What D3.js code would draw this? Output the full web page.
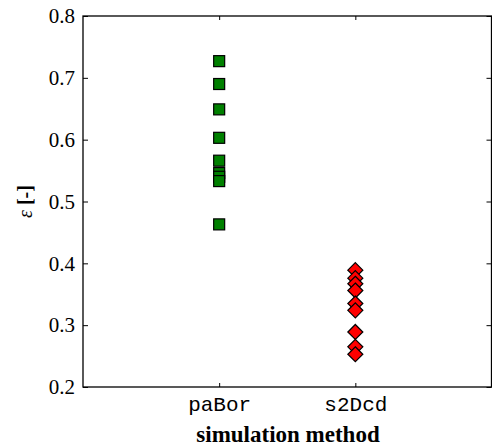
<!DOCTYPE html>
<html><head><meta charset="utf-8">
<script src="https://cdn.jsdelivr.net/npm/d3@7"></script>
<style>body{margin:0;background:#fff}</style>
</head><body>
<svg id="c" width="492" height="446"></svg>
<script>
const categories = ["paBor", "s2Dcd"];
const paBorValues = [0.727, 0.690, 0.649, 0.603, 0.566, 0.546, 0.540, 0.533, 0.463];
const s2DcdValues = [0.389, 0.376, 0.367, 0.356, 0.335, 0.324, 0.289, 0.265, 0.253];
const yTicks = [0.2, 0.3, 0.4, 0.5, 0.6, 0.7, 0.8];

const svg = d3.select("#c");
const L = 83, R = 491.5, T = 16, B = 387;
const x = d3.scaleLinear().domain([0, 3]).range([L, R]);
const y = d3.scaleLinear().domain([0.2, 0.8]).range([B, T]);
const serif = "'Liberation Serif', 'DejaVu Serif', serif";

// box
svg.append("rect").attr("x", L).attr("y", T).attr("width", R - L).attr("height", B - T)
  .attr("fill", "none").attr("stroke", "#000").attr("stroke-width", 1.3);

// y axis
const ya = svg.append("g").attr("transform", `translate(${L},0)`)
  .call(d3.axisLeft(y).tickValues(yTicks).tickFormat(d3.format(".1f")).tickSizeInner(-5).tickSizeOuter(0).tickPadding(8));
ya.select(".domain").remove();
ya.selectAll("text").style("font-family", serif).style("font-size", "21px").attr("fill", "#000");
const yr = svg.append("g").attr("transform", `translate(${R},0)`)
  .call(d3.axisRight(y).tickValues(yTicks).tickSizeInner(-5).tickSizeOuter(0).tickFormat(""));
yr.select(".domain").remove();

// x axis
const xa = svg.append("g").attr("transform", `translate(0,${B})`)
  .call(d3.axisBottom(x).tickValues([1, 2]).tickFormat((d) => categories[d - 1]).tickSizeInner(-4).tickSizeOuter(0).tickPadding(9));
xa.select(".domain").remove();
xa.selectAll("text").style("font-family", "'Liberation Mono', 'Courier New', monospace").style("font-size", "21px").attr("fill", "#000");
const xt = svg.append("g").attr("transform", `translate(0,${T})`)
  .call(d3.axisTop(x).tickValues([1, 2]).tickFormat("").tickSizeInner(-4).tickSizeOuter(0));
xt.select(".domain").remove();

// markers
const sq = 11;
svg.append("g").selectAll("rect").data(paBorValues).join("rect")
  .attr("x", x(1) - sq / 2).attr("y", (d) => y(d) - sq / 2)
  .attr("width", sq).attr("height", sq)
  .attr("fill", "#008000").attr("stroke", "#000").attr("stroke-width", 1.2);

const dd = 7.5;
svg.append("g").selectAll("path").data(s2DcdValues).join("path")
  .attr("d", (d) => `M${x(2)},${y(d) - dd}L${x(2) + dd},${y(d)}L${x(2)},${y(d) + dd}L${x(2) - dd},${y(d)}Z`)
  .attr("fill", "#ff0000").attr("stroke", "#000").attr("stroke-width", 1.2);

// labels
svg.append("text").attr("x", 288).attr("y", 442).attr("text-anchor", "middle")
  .style("font-family", serif).style("font-size", "23px").style("font-weight", "bold").text("simulation method");
const yl = svg.append("text").attr("transform", `translate(32,${(T + B) / 2}) rotate(-90)`)
  .attr("text-anchor", "middle").style("font-family", serif).style("font-size", "20px");
yl.append("tspan").style("font-style", "italic").text("ε");
yl.append("tspan").style("font-weight", "bold").text(" [-]");
</script>
</body></html>
